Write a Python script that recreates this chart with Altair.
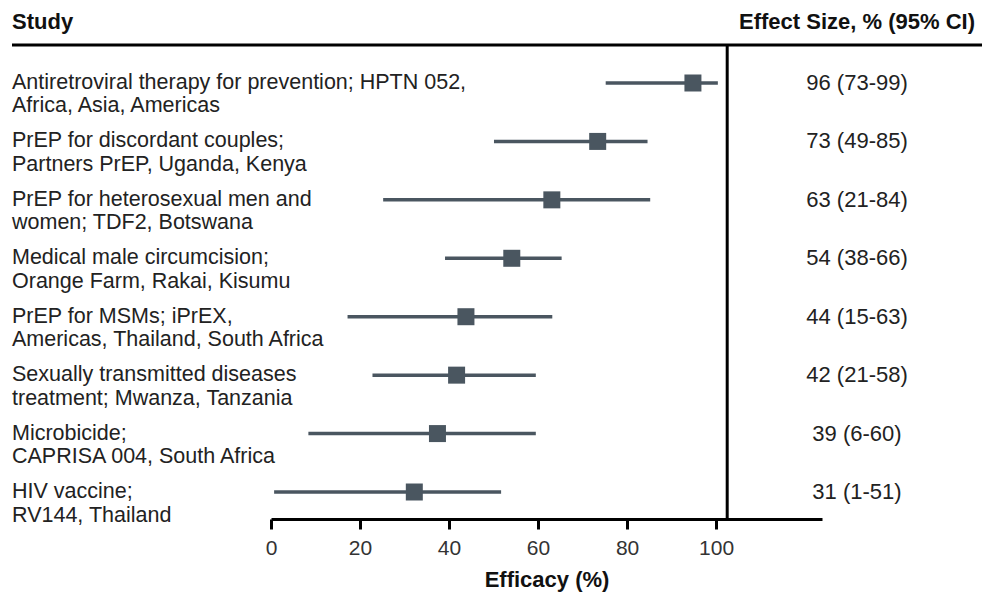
import altair as alt
import pandas as pd

studies = [
    "Antiretroviral therapy for prevention; HPTN 052,\nAfrica, Asia, Americas",
    "PrEP for discordant couples;\nPartners PrEP, Uganda, Kenya",
    "PrEP for heterosexual men and\nwomen; TDF2, Botswana",
    "Medical male circumcision;\nOrange Farm, Rakai, Kisumu",
    "PrEP for MSMs; iPrEX,\nAmericas, Thailand, South Africa",
    "Sexually transmitted diseases\ntreatment; Mwanza, Tanzania",
    "Microbicide;\nCAPRISA 004, South Africa",
    "HIV vaccine;\nRV144, Thailand",
]
effect = [94.8, 73.4, 63.1, 54.1, 43.8, 41.7, 37.4, 32.2]
lower = [75.2, 50.1, 25.2, 39.1, 17.2, 22.8, 8.4, 0.7]
upper = [100.4, 84.6, 85.2, 65.3, 63.2, 59.5, 59.5, 51.7]
ci_text = ["96 (73-99)", "73 (49-85)", "63 (21-84)", "54 (38-66)",
           "44 (15-63)", "42 (21-58)", "39 (6-60)", "31 (1-51)"]
tick_values = [0, 20, 40, 60, 80, 100]
ref_line = [102.5]

df = pd.DataFrame({"study": studies, "effect": effect, "lower": lower,
                   "upper": upper, "ci": ci_text})

FONT = "Liberation Sans"
COL = "#4a5660"

xscale = alt.Scale(domain=[0, 123.8], nice=False, zero=False)
yenc = alt.Y("study:N", sort=studies, axis=None,
             scale=alt.Scale(type="point", padding=0.462))

base = alt.Chart(df)

bars = base.mark_rule(color=COL, strokeWidth=3.5).encode(
    x=alt.X("lower:Q", scale=xscale,
            axis=alt.Axis(values=tick_values, title="Efficacy (%)", grid=False,
                          domainColor="black", domainWidth=3, tickColor="black",
                          tickWidth=3, tickSize=10, labelFontSize=21,
                          labelColor="#333333", labelPadding=8, labelFont=FONT,
                          labelFlush=False,
                          titleFont=FONT, titleFontSize=22, titleFontWeight="bold",
                          titleColor="#111111", titlePadding=11)),
    x2="upper:Q",
    y=yenc,
)

squares = base.mark_square(size=289, color=COL, opacity=1, filled=True).encode(
    x="effect:Q", y=yenc)

labels = base.mark_text(align="left", baseline="middle", lineBreak="\n",
                        lineHeight=23.5, font=FONT, fontSize=21.5,
                        color="#222222").encode(
    x=alt.value(-259), y=yenc, text="study:N")

cis = base.mark_text(align="center", baseline="middle", font=FONT, fontSize=22,
                     color="#222222").encode(
    x=alt.value(586), y=yenc, text="ci:N")

vline = alt.Chart(pd.DataFrame({"x": ref_line})).mark_rule(
    color="black", strokeWidth=3).encode(
    x=alt.X("x:Q", scale=xscale), y=alt.value(-11), y2=alt.value(463))

hline = alt.Chart(pd.DataFrame({"x": ref_line})).mark_rule(
    color="black", strokeWidth=3).encode(
    x=alt.value(-259), x2=alt.value(711), y=alt.value(-11))

head_study = alt.Chart(pd.DataFrame({"t": ["Study"]})).mark_text(
    align="left", baseline="middle", font=FONT, fontSize=22,
    fontWeight="bold", color="#111111").encode(
    x=alt.value(-259), y=alt.value(-34), text="t:N")

head_eff = alt.Chart(pd.DataFrame({"t": ["Effect Size, % (95% CI)"]})).mark_text(
    align="right", baseline="middle", font=FONT, fontSize=22,
    fontWeight="bold", color="#111111").encode(
    x=alt.value(704), y=alt.value(-34), text="t:N")

chart = alt.layer(bars, squares, labels, cis, vline, hline, head_study,
                  head_eff).properties(
    width=551, height=463,
    padding={"left": 271, "top": 56, "right": 160, "bottom": 75},
    autosize=alt.AutoSizeParams(type="none"),
).configure_view(stroke=None)

chart.save("out.html", embed_options={"renderer": "svg", "actions": False})
